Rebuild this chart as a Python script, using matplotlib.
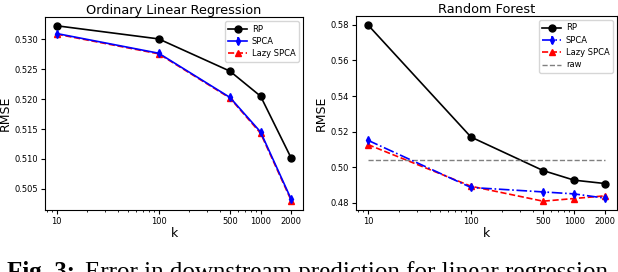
import matplotlib.pyplot as plt
from matplotlib.ticker import FixedLocator, FixedFormatter, NullFormatter

k = [10, 100, 500, 1000, 2000]
k_labels = ['10', '100', '500', '1000', '2000']

# Ordinary Linear Regression
olr_rp = [0.5323, 0.5301, 0.5247, 0.5205, 0.5101]
olr_spca = [0.5310, 0.5277, 0.5203, 0.5145, 0.5032]
olr_lazy = [0.5309, 0.5276, 0.5202, 0.5143, 0.5030]
olr_spca_err = [0.0003, 0.0003, 0.0003, 0.0003, 0.0003]

# Random Forest
rf_rp = [0.5800, 0.5170, 0.4982, 0.4928, 0.4909]
rf_spca = [0.5152, 0.4887, 0.4862, 0.4851, 0.4827]
rf_lazy = [0.5128, 0.4894, 0.4810, 0.4825, 0.4840]
rf_spca_err = [0.0012, 0.0012, 0.0012, 0.0012, 0.0012]
rf_raw = 0.5042

plt.rcParams['font.family'] = 'DejaVu Sans'

fig = plt.figure(figsize=(6.18, 2.72), dpi=100)
ax1 = fig.add_axes([45 / 618, 62 / 272, 258 / 618, 193 / 272])
ax2 = fig.add_axes([356 / 618, 62 / 272, 261 / 618, 194 / 272])


def draw(ax, rp, spca, spca_err, lazy, title, spca_ls):
    h1, = ax.plot(k, rp, 'k-', marker='o', markersize=5, linewidth=1.2, label='RP')
    h2 = ax.errorbar(k, spca, yerr=spca_err, color='blue', linestyle=spca_ls, marker='d',
                     markersize=4, linewidth=1.2, label='SPCA')
    h3, = ax.plot(k, lazy, color='red', linestyle='--', marker='^', markersize=5,
                  linewidth=1.2, label='Lazy SPCA')
    ax.set_xscale('log')
    ax.xaxis.set_major_locator(FixedLocator(k))
    ax.xaxis.set_major_formatter(FixedFormatter(k_labels))
    ax.xaxis.set_minor_formatter(NullFormatter())
    ax.tick_params(labelsize=6, length=3, pad=2)
    ax.tick_params(which='minor', length=1.5)
    ax.set_title(title, fontsize=9.3, pad=2)
    ax.set_xlabel('k', fontsize=9, labelpad=1)
    ax.set_ylabel('RMSE', fontsize=9, labelpad=2)
    return [h1, h2, h3]


leg_kw = dict(loc='upper right', fontsize=6, handlelength=2.2, borderpad=0.4,
              labelspacing=0.4, handletextpad=0.6)

hs = draw(ax1, olr_rp, olr_spca, olr_spca_err, olr_lazy, 'Ordinary Linear Regression', '-')
ax1.set_yticks([0.505, 0.510, 0.515, 0.520, 0.525, 0.530])
ax1.set_yticklabels(['0.505', '0.510', '0.515', '0.520', '0.525', '0.530'])
ax1.legend(handles=hs, **leg_kw)

hs = draw(ax2, rf_rp, rf_spca, rf_spca_err, rf_lazy, 'Random Forest', '-.')
h4, = ax2.plot([k[0], k[-1]], [rf_raw, rf_raw], color='gray', linestyle='--',
               linewidth=1, label='raw')
ax2.set_yticks([0.48, 0.50, 0.52, 0.54, 0.56, 0.58])
ax2.set_yticklabels(['0.48', '0.50', '0.52', '0.54', '0.56', '0.58'])
ax2.legend(handles=hs + [h4], **leg_kw)

# caption, cut by the figure edge like the source
cap_y = -7 / 272
t1 = fig.text(7 / 618, cap_y, 'Fig. 3:', fontsize=18, family='Liberation Serif',
              fontweight='bold', va='baseline', ha='left')
fig.canvas.draw()
bb = t1.get_window_extent()
fig.text((bb.x1 + 10) / 618, cap_y, 'Error in downstream prediction for linear regression',
         fontsize=18, family='Liberation Serif', va='baseline', ha='left')

fig.savefig('out.png', dpi=100)
